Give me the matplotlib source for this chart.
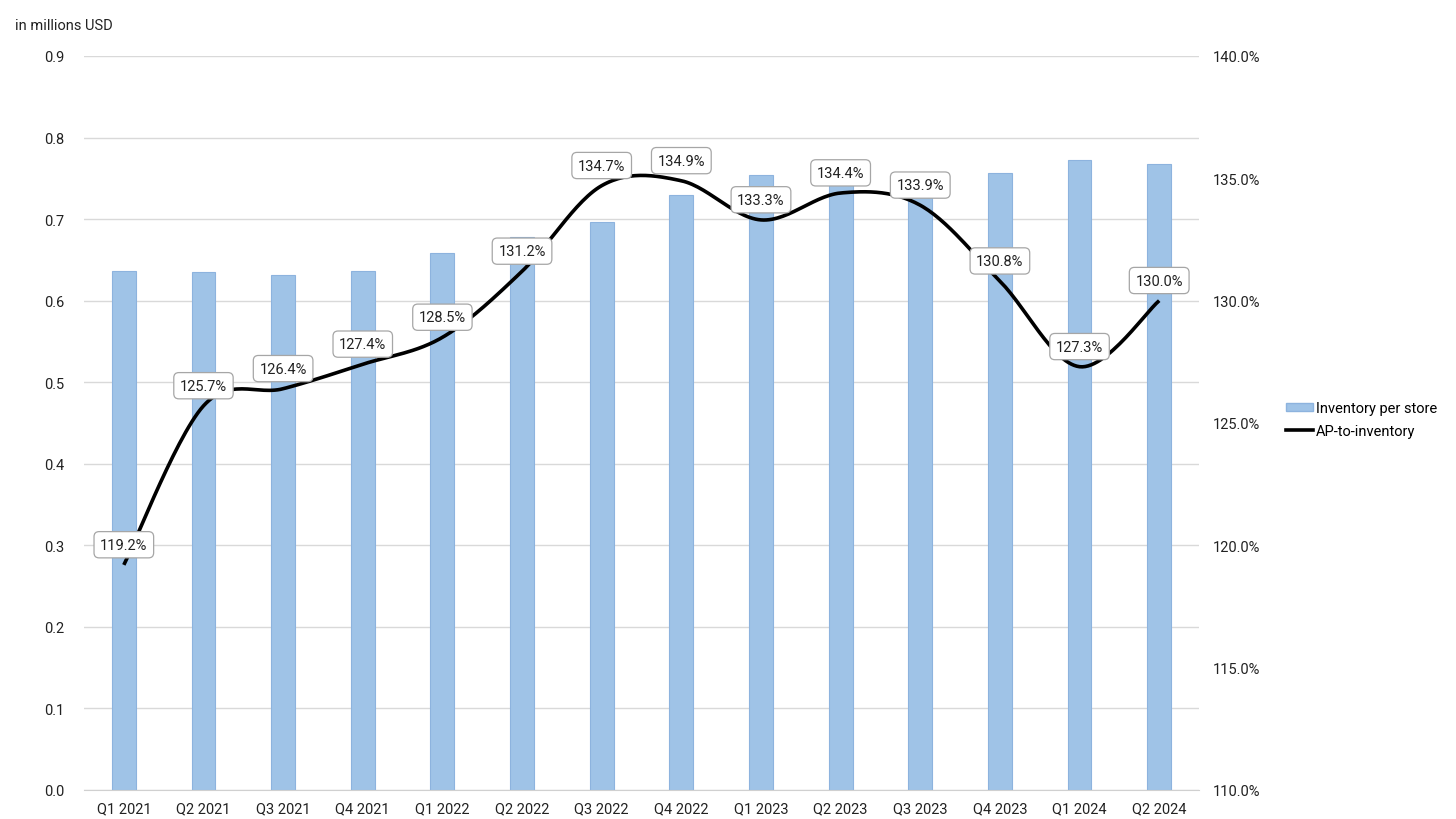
import numpy as np
import matplotlib.pyplot as plt
from matplotlib.lines import Line2D
from matplotlib.patches import Patch

plt.rcParams['font.family'] = ['Roboto', 'DejaVu Sans']

quarters = ['Q1 2021', 'Q2 2021', 'Q3 2021', 'Q4 2021', 'Q1 2022', 'Q2 2022', 'Q3 2022',
            'Q4 2022', 'Q1 2023', 'Q2 2023', 'Q3 2023', 'Q4 2023', 'Q1 2024', 'Q2 2024']
inventory = [0.636, 0.635, 0.632, 0.636, 0.658, 0.678, 0.697,
             0.730, 0.754, 0.745, 0.757, 0.756, 0.773, 0.767]
ap_ratio = [119.2, 125.7, 126.4, 127.4, 128.5, 131.2, 134.7,
            134.9, 133.3, 134.4, 133.9, 130.8, 127.3, 130.0]


def smooth(xs, ys, n=30):
    # catmull-rom style bezier, like the excel "smoothed line" option
    px = np.concatenate([[xs[0]], xs, [xs[-1]]])
    py = np.concatenate([[ys[0]], ys, [ys[-1]]])
    outx, outy = [], []
    t = np.linspace(0, 1, n)
    for i in range(1, len(px) - 2):
        p0 = np.array([px[i], py[i]])
        p3 = np.array([px[i + 1], py[i + 1]])
        c1 = p0 + (np.array([px[i + 1], py[i + 1]]) - np.array([px[i - 1], py[i - 1]])) / 6
        c2 = p3 - (np.array([px[i + 2], py[i + 2]]) - np.array([px[i], py[i]])) / 6
        for tt in t:
            b = ((1 - tt) ** 3) * p0 + 3 * ((1 - tt) ** 2) * tt * c1 + 3 * (1 - tt) * tt ** 2 * c2 + tt ** 3 * p3
            outx.append(b[0])
            outy.append(b[1])
    return np.array(outx), np.array(outy)


x = np.arange(len(quarters))

fig = plt.figure(figsize=(14.56, 8.2), dpi=100)
ax = fig.add_axes([0.0577, 0.0354, 0.7658, 0.8951])
ax2 = ax.twinx()

ax.bar(x, inventory, width=0.3, color='#9FC3E7', edgecolor='#8DB3DE', linewidth=0.8, zorder=2)
ax.set_ylim(0, 0.9)
ax.set_yticks(np.arange(0, 0.91, 0.1))
ax.set_yticklabels([f'{v:.1f}' for v in np.arange(0, 0.91, 0.1)])
ax.set_xlim(-0.5, len(quarters) - 0.5)
ax.set_xticks(x)
ax.set_xticklabels(quarters)
ax.yaxis.grid(True, color='#D9D9D9', linewidth=1, zorder=0)
ax.set_axisbelow(True)
for s in ['top', 'right', 'left']:
    ax.spines[s].set_visible(False)
ax.spines['bottom'].set_color('#D0D0D0')
ax.tick_params(axis='both', length=0, labelsize=10.5, colors='#222222')
ax.tick_params(axis='y', pad=14)
ax.tick_params(axis='x', pad=8)

sx, sy = smooth(x.astype(float), np.array(ap_ratio))
ax2.plot(sx, sy, color='black', linewidth=2.6, solid_capstyle='butt', zorder=3)
ax2.set_ylim(110, 140)
ax2.set_yticks(np.arange(110, 140.1, 5))
ax2.set_yticklabels([f'{v:.1f}%' for v in np.arange(110, 140.1, 5)])
for s in ax2.spines.values():
    s.set_visible(False)
ax2.tick_params(axis='y', length=0, labelsize=10.5, colors='#222222', pad=10)

for xi, v in zip(x, ap_ratio):
    ax2.annotate(f'{v:.1f}%', (xi, v), xytext=(0, 14.5), textcoords='offset points',
                 ha='center', va='center', fontsize=10.5, color='#222222', zorder=5,
                 bbox=dict(boxstyle='round,pad=0.42,rounding_size=0.35', fc='white', ec='#A6A6A6', lw=0.9))

fig.text(0.0103, 0.968, 'in millions USD', fontsize=10.5, color='#222222', va='center')

handles = [Patch(facecolor='#9FC3E7', edgecolor='#8DB3DE'),
           Line2D([0], [0], color='black', linewidth=2.6)]
fig.legend(handles, ['Inventory per store', 'AP-to-inventory'], loc='center left',
           bbox_to_anchor=(0.874, 0.487), frameon=False, fontsize=10.5,
           handlelength=1.9, handleheight=0.5, handletextpad=0.2, labelspacing=0.6)

fig.savefig('out.png', dpi=100)
